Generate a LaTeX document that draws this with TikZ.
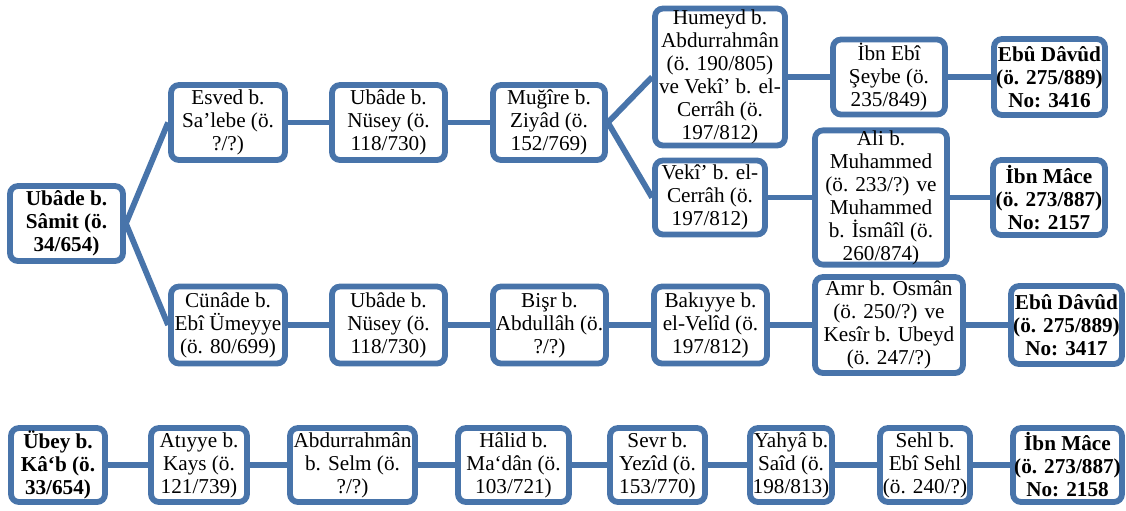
\documentclass[tikz,border=0pt]{standalone}
\usepackage{fontspec}
\setmainfont{Liberation Serif}
\definecolor{bl}{RGB}{72,116,170}
\tikzset{
  box/.style={draw=bl, line width=2.9pt, rounded corners=4pt, fill=white, align=center,
    inner sep=0pt, text=black, font=\fontsize{10.6}{11.5}\selectfont},
  boldbox/.style={box, font=\fontsize{10.6}{11.5}\selectfont\bfseries},
  link/.style={draw=bl, line width=2.9pt}
}
\begin{document}
\begin{tikzpicture}[x=0.5pt,y=-0.5pt]
\useasboundingbox (0,0) rectangle (1126,510);
% Row 1
\node[boldbox, minimum width=56.5pt, minimum height=37.5pt] (ubs) at (66.5,223.5) {Ubâde b.\\ Sâmit (ö.\\ 34/654)};
\node[box, minimum width=57pt, minimum height=37.5pt] (esv) at (228,122.5) {Esved b.\\ Sa’lebe (ö.\\ ?/?)};
\node[box, minimum width=56.5pt, minimum height=37.5pt] (un1) at (388.5,122.5) {Ubâde b.\\ Nüsey (ö.\\ 118/730)};
\node[box, minimum width=56pt, minimum height=37.5pt] (mug) at (549,122.5) {Muğîre b.\\ Ziyâd (ö.\\ 152/769)};
\node[box, minimum width=65pt, minimum height=68.5pt] (hum) at (720,77) {Humeyd b.\\ Abdurrahmân\\ (ö. 190/805)\\ ve Vekî’ b. el-\\ Cerrâh (ö.\\ 197/812)};
\node[box, minimum width=55pt, minimum height=37pt] (vek) at (710,197.5) {Vekî’ b. el-\\ Cerrâh (ö.\\ 197/812)};
\node[box, minimum width=56pt, minimum height=37.5pt] (ies) at (889,77) {İbn Ebî\\ Şeybe (ö.\\ 235/849)};
\node[box, minimum width=66pt, minimum height=67pt] (ali) at (881,197.5) {Ali b.\\ Muhammed\\ (ö. 233/?) ve\\ Muhammed\\ b. İsmâîl (ö.\\ 260/874)};
\node[boldbox, minimum width=55.5pt, minimum height=38pt] (ed1) at (1049.5,77) {Ebû Dâvûd\\ (ö. 275/889)\\ No: 3416};
\node[boldbox, minimum width=56pt, minimum height=37.5pt] (im1) at (1049,197.5) {İbn Mâce\\ (ö. 273/887)\\ No: 2157};
% Row 2
\node[box, minimum width=57pt, minimum height=38.5pt] (cun) at (228,325) {Cünâde b.\\ Ebî Ümeyye\\ (ö. 80/699)};
\node[box, minimum width=56.5pt, minimum height=38.5pt] (un2) at (388.5,325) {Ubâde b.\\ Nüsey (ö.\\ 118/730)};
\node[box, minimum width=56.5pt, minimum height=38.5pt] (bis) at (549.5,325) {Bişr b.\\ Abdullâh (ö.\\ ?/?)};
\node[box, minimum width=56.5pt, minimum height=38.5pt] (bak) at (710.5,325) {Bakıyye b.\\ el-Velîd (ö.\\ 197/812)};
\node[box, minimum width=74pt, minimum height=48pt] (amr) at (889,325) {Amr b. Osmân\\ (ö. 250/?) ve\\ Kesîr b. Ubeyd\\ (ö. 247/?)};
\node[boldbox, minimum width=55.5pt, minimum height=39pt] (ed2) at (1066.5,325) {Ebû Dâvûd\\ (ö. 275/889)\\ No: 3417};
% Row 3
\node[boldbox, minimum width=47pt, minimum height=37pt] (ube) at (58,465) {Übey b.\\ Kâ‘b (ö.\\ 33/654)};
\node[box, minimum width=48pt, minimum height=37pt] (ati) at (199,465) {Atıyye b.\\ Kays (ö.\\ 121/739)};
\node[box, minimum width=62.5pt, minimum height=37pt] (abd) at (352.5,465) {Abdurrahmân\\ b. Selm (ö.\\ ?/?)};
\node[box, minimum width=55.5pt, minimum height=37pt] (hal) at (513.5,465) {Hâlid b.\\ Ma‘dân (ö.\\ 103/721)};
\node[box, minimum width=47.5pt, minimum height=37pt] (sev) at (657.5,465) {Sevr b.\\ Yezîd (ö.\\ 153/770)};
\node[box, minimum width=41pt, minimum height=37pt] (yah) at (791,465) {Yahyâ b.\\ Saîd (ö.\\ 198/813)};
\node[box, minimum width=45pt, minimum height=37pt] (seh) at (925,465) {Sehl b.\\ Ebî Sehl\\ (ö. 240/?)};
\node[boldbox, minimum width=54.5pt, minimum height=37pt] (im2) at (1067.5,465) {İbn Mâce\\ (ö. 273/887)\\ No: 2158};
% Connectors
\draw[link] (ubs.east) -- (esv.west);
\draw[link] (ubs.east) -- (cun.west);
\draw[link] (esv) -- (un1);
\draw[link] (un1) -- (mug);
\draw[link] (mug.east) -- (hum.west);
\draw[link] (mug.east) -- (vek.west);
\draw[link] (hum.east |- ies.west) -- (ies.west);
\draw[link] (ies) -- (ed1);
\draw[link] (vek) -- (ali);
\draw[link] (ali) -- (im1);
\draw[link] (cun) -- (un2);
\draw[link] (un2) -- (bis);
\draw[link] (bis) -- (bak);
\draw[link] (bak) -- (amr);
\draw[link] (amr) -- (ed2);
\draw[link] (ube) -- (ati);
\draw[link] (ati) -- (abd);
\draw[link] (abd) -- (hal);
\draw[link] (hal) -- (sev);
\draw[link] (sev) -- (yah);
\draw[link] (yah) -- (seh);
\draw[link] (seh) -- (im2);
\end{tikzpicture}
\end{document}
